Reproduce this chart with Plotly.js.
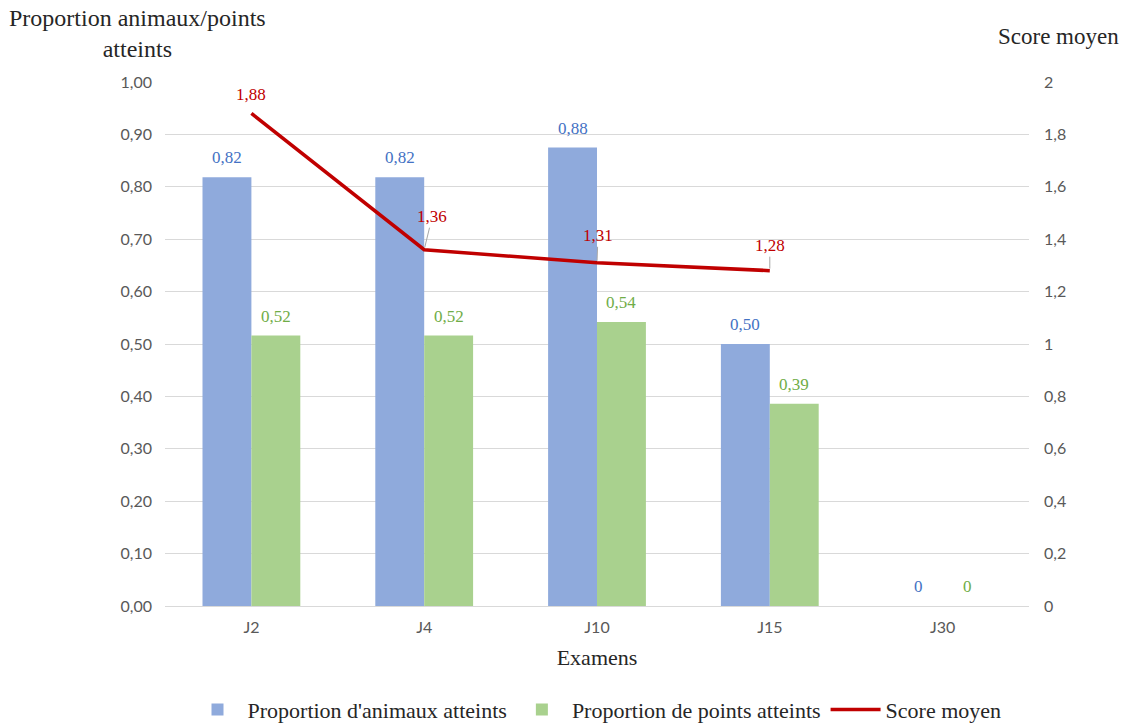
<!DOCTYPE html>
<html><head><meta charset="utf-8">
<script src="https://cdn.plot.ly/plotly-3.0.1.min.js"></script>
<style>html,body{margin:0;padding:0;background:#fff}#chart{width:1125px;height:725px}</style>
</head><body><div id="chart"></div>
<script>
// ---- data ----
const categories = ['J2', 'J4', 'J10', 'J15', 'J30'];
const propAnimaux = [0.818, 0.818, 0.875, 0.50, 0];
const propPoints = [0.516, 0.516, 0.542, 0.386, 0];
const scoreMoyen = [1.88, 1.36, 1.31, 1.28, null];
const seriesNames = ["Proportion d'animaux atteints", "Proportion de points atteints", "Score moyen"];
const leftTitle = 'Proportion animaux/points<br>atteints';
const rightTitle = 'Score moyen';
const xTitle = 'Examens';

// ---- style ----
const BLUE = '#8FAADC', GREEN = '#A9D18E', RED = '#C00000';
const BLUE_TXT = '#4472C4', GREEN_TXT = '#70AD47', RED_TXT = '#C00000';
const SERIF = '"Liberation Serif", "Times New Roman", serif';
const SANS = 'Lato, "Open Sans", sans-serif';
const GRID = '#D9D9D9', TICK = '#595959', TITLE = '#262626';
// label offsets for score labels (px): [ax, ay, showLeader]
const scoreLabelOffsets = [[0, -19, false], [8, -33, true], [1, -27, true], [0, -25, true]];
const barShift = 24.4;

const fmt = v => v === 0 ? '0' : v.toFixed(2).replace('.', ',');

const traces = [
  { type: 'bar', name: seriesNames[0], x: categories, y: propAnimaux,
    marker: { color: BLUE }, hoverinfo: 'x+y' },
  { type: 'bar', name: seriesNames[1], x: categories, y: propPoints,
    marker: { color: GREEN }, hoverinfo: 'x+y' },
  { type: 'scatter', mode: 'lines', name: seriesNames[2], x: categories, y: scoreMoyen,
    yaxis: 'y2', line: { color: RED, width: 3.5 }, connectgaps: false }
];

const annotations = [];
categories.forEach((c, i) => {
  annotations.push({ x: c, y: propAnimaux[i], xref: 'x', yref: 'y', text: fmt(propAnimaux[i]),
    showarrow: false, xshift: -barShift, yshift: 8, yanchor: 'bottom',
    font: { family: SERIF, size: 17, color: BLUE_TXT } });
  annotations.push({ x: c, y: propPoints[i], xref: 'x', yref: 'y', text: fmt(propPoints[i]),
    showarrow: false, xshift: barShift, yshift: 8, yanchor: 'bottom',
    font: { family: SERIF, size: 17, color: GREEN_TXT } });
  if (scoreMoyen[i] !== null) {
    const o = scoreLabelOffsets[i];
    annotations.push({ x: c, y: scoreMoyen[i], xref: 'x', yref: 'y2', text: fmt(scoreMoyen[i]),
      showarrow: true, arrowhead: 0, arrowwidth: 1, standoff: 2,
      arrowcolor: o[2] ? '#A6A6A6' : 'rgba(0,0,0,0)', ax: o[0], ay: o[1],
      font: { family: SERIF, size: 17, color: RED_TXT } });
  }
});
annotations.push({ xref: 'paper', yref: 'paper', x: -0.0318, y: 1.0935, xanchor: 'center', yanchor: 'middle',
  text: leftTitle, showarrow: false, font: { family: SERIF, size: 24, color: TITLE } });
annotations.push({ xref: 'paper', yref: 'paper', x: 1.0336, y: 1.086, xanchor: 'center', yanchor: 'middle',
  text: rightTitle, showarrow: false, font: { family: SERIF, size: 23, color: TITLE } });

const layout = {
  width: 1125, height: 725,
  margin: { l: 165, r: 96, t: 82, b: 119, autoexpand: false },
  paper_bgcolor: '#fff', plot_bgcolor: '#fff',
  separators: ', ',
  barmode: 'group', bargap: 0.434, bargroupgap: 0,
  showlegend: true,
  legend: { orientation: 'h', x: 0.5, xanchor: 'center', y: -0.198, yanchor: 'middle',
    itemwidth: 50, font: { family: SERIF, size: 22, color: TITLE }, traceorder: 'normal' },
  xaxis: { type: 'category', showgrid: false, showline: true, linecolor: GRID, linewidth: 1,
    automargin: false, ticks: '', ticklabelstandoff: 7, tickfont: { family: SANS, size: 16, color: TICK },
    title: { text: xTitle, font: { family: SERIF, size: 22, color: TITLE }, standoff: 14 } },
  yaxis: { range: [0, 1], dtick: 0.1, tick0: 0, tickformat: '.2f', showgrid: true, gridcolor: GRID,
    gridwidth: 1, zeroline: false, showline: false, ticks: '', ticklabelstandoff: 12, automargin: false,
    tickfont: { family: SANS, size: 16, color: TICK } },
  yaxis2: { range: [0, 2], dtick: 0.2, tick0: 0, overlaying: 'y', side: 'right', showgrid: false,
    zeroline: false, showline: false, ticks: '', ticklabelstandoff: 14, automargin: false,
    tickfont: { family: SANS, size: 16, color: TICK } },
  annotations: annotations
};

Plotly.newPlot('chart', traces, layout, { displayModeBar: false, responsive: false });
</script></body></html>
